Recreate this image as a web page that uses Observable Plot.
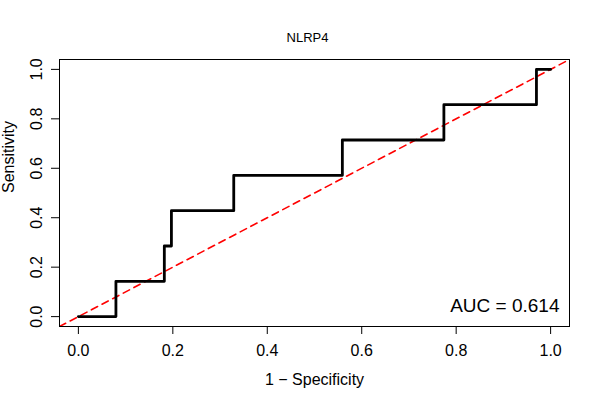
<!DOCTYPE html>
<html><head><meta charset="utf-8">
<script src="https://cdn.jsdelivr.net/npm/d3@7"></script>
<script src="https://cdn.jsdelivr.net/npm/@observablehq/plot@0.6"></script>
<style>body{margin:0;background:#fff}</style>
</head><body><div id="chart"></div>
<script>
const fpr = [0, 0.0795, 0.182, 0.197, 0.329, 0.559, 0.774, 0.970, 1.0];
const tpr = [0, 1/7, 2/7, 3/7, 4/7, 5/7, 6/7, 1, 1];
const xTicks = [0, 0.2, 0.4, 0.6, 0.8, 1.0];
const yTicks = [0, 0.2, 0.4, 0.6, 0.8, 1.0];
const chance = [-0.04, 1.04];
const titleText = "NLRP4";
const xLabel = "1 \u2212 Specificity";
const yLabel = "Sensitivity";
const aucText = "AUC = 0.614";

const roc = fpr.map((x, i) => ({x, y: tpr[i]}));
const diag = chance.map(v => ({x: v, y: v}));
const fmt = d3.format(".1f");

const chart = Plot.plot({
  width: 600, height: 400,
  marginLeft: 59, marginRight: 31, marginTop: 59, marginBottom: 74,
  style: {fontFamily: "'Liberation Sans', Arial, Helvetica, sans-serif", fontSize: "16px", background: "white", color: "black"},
  x: {domain: [-0.04, 1.04]},
  y: {domain: [-0.04, 1.04]},
  marks: [
    Plot.line(diag, {x: "x", y: "y", stroke: "red", strokeWidth: 1.6, strokeDasharray: "7,5", clip: true}),
    Plot.line(roc, {x: "x", y: "y", curve: "step-after", stroke: "black", strokeWidth: 2.8}),
    Plot.frame({stroke: "black", strokeWidth: 1}),
    Plot.axisX({ticks: xTicks, tickSize: 8, tickPadding: 10, tickFormat: fmt, label: null, fontSize: 16}),
    Plot.axisY({ticks: yTicks, tickSize: 8, tickPadding: 10, tickFormat: fmt, label: null, fontSize: 16, tickRotate: -90, textAnchor: "middle", lineAnchor: "bottom"}),
    Plot.text([titleText], {text: d => d, frameAnchor: "top", dx: -7, dy: -17.5, lineAnchor: "bottom", fontSize: 13}),
    Plot.text([xLabel], {text: d => d, frameAnchor: "bottom", dy: 58, lineAnchor: "bottom", fontSize: 16}),
    Plot.text([yLabel], {text: d => d, frameAnchor: "left", dx: -46, rotate: -90, lineAnchor: "bottom", fontSize: 16}),
    Plot.text([aucText], {text: d => d, frameAnchor: "bottom-right", dx: -10, dy: -15, textAnchor: "end", lineAnchor: "bottom", fontSize: 19})
  ]
});
document.getElementById("chart").appendChild(chart);
</script>
</body></html>
